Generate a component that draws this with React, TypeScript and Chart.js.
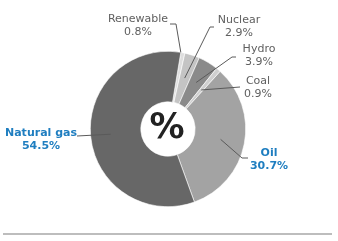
import React, { useEffect, useRef } from "react";
import { Chart, registerables } from "chart.js";

Chart.register(...registerables);

const categories = ["Renewable", "Nuclear", "Hydro", "Coal", "Oil", "Natural gas"];
const shares = [0.8, 2.9, 3.9, 0.9, 30.7, 54.5];
const valueLabels = ["0.8%", "2.9%", "3.9%", "0.9%", "30.7%", "54.5%"];
const sliceColors = ["#dedede", "#c4c4c4", "#8a8a8a", "#cfcfcf", "#a3a3a3", "#676767"];
const highlight = [false, false, false, false, true, true];

// annotation layout: label centre (x, y of first line) and leader path near the label
const labelPos: [number, number][] = [
  [138, 19], [239, 20], [259, 49], [258, 81], [269, 153], [41, 133],
];
const leaderStart: [number, number][][] = [
  [[170, 24], [176, 24]],
  [[214, 27], [210, 27]],
  [[236, 57], [232, 57]],
  [[240, 87]],
  [[248, 158], [242, 158]],
  [[77, 136]],
];
const anchorRadius = [1.0, 0.69, 0.7, 0.66, 0.69, 0.74];
const anchorAngleFrac = [0, 0.5, 0.5, 0.5, 0.5, 0.5];

const annotate = {
  id: "annotate",
  afterDatasetsDraw(chart: any) {
    const ctx = chart.ctx;
    const meta = chart.getDatasetMeta(0);
    ctx.save();
    meta.data.forEach((arc: any, i: number) => {
      const p = arc.getProps(["x", "y", "startAngle", "endAngle", "outerRadius"], true);
      const ang = p.startAngle + (p.endAngle - p.startAngle) * anchorAngleFrac[i];
      const r = p.outerRadius * anchorRadius[i];
      const ax = p.x + Math.cos(ang) * r;
      const ay = p.y + Math.sin(ang) * r;
      ctx.beginPath();
      ctx.strokeStyle = "#5a5a5a";
      ctx.lineWidth = 1;
      const pts = leaderStart[i];
      ctx.moveTo(pts[0][0], pts[0][1]);
      for (let k = 1; k < pts.length; k++) ctx.lineTo(pts[k][0], pts[k][1]);
      ctx.lineTo(ax, ay);
      ctx.stroke();

      const [lx, ly] = labelPos[i];
      ctx.textAlign = "center";
      ctx.textBaseline = "middle";
      if (highlight[i]) {
        ctx.fillStyle = "#1f7ec0";
        ctx.font = "bold 11px 'DejaVu Sans'";
      } else {
        ctx.fillStyle = "#5f5f5f";
        ctx.font = "11px 'DejaVu Sans'";
      }
      ctx.fillText(categories[i], lx, ly);
      ctx.fillText(valueLabels[i], lx, ly + 13);
    });
    const first = meta.data[0];
    ctx.fillStyle = "#222222";
    ctx.font = "bold 35px 'DejaVu Sans'";
    ctx.textAlign = "center";
    ctx.textBaseline = "middle";
    ctx.fillText("%", first.x - 1, first.y);
    // bottom rule
    ctx.beginPath();
    ctx.strokeStyle = "#bdbdbd";
    ctx.lineWidth = 2;
    ctx.moveTo(3, 234);
    ctx.lineTo(332, 234);
    ctx.stroke();
    ctx.restore();
  },
};

export default function App() {
  const ref = useRef<HTMLCanvasElement>(null);
  useEffect(() => {
    document.body.style.margin = "0";
    const chart = new Chart(ref.current!, {
      type: "doughnut",
      data: {
        labels: categories,
        datasets: [
          {
            data: shares,
            backgroundColor: sliceColors,
            borderColor: "#ffffff",
            borderWidth: 0.6,
          },
        ],
      },
      options: {
        animation: false,
        responsive: false,
        rotation: 9.5,
        cutout: "35%",
        layout: { padding: { top: 51, bottom: 34, left: 0, right: 2 } },
        plugins: { legend: { display: false }, tooltip: { enabled: false } },
        events: [],
      },
      plugins: [annotate],
    });
    return () => chart.destroy();
  }, []);
  return (
    <div style={{ position: "absolute", left: 0, top: 0, width: 338, height: 241 }}>
      <canvas ref={ref} width={338} height={241} style={{ width: 338, height: 241 }} />
    </div>
  );
}
